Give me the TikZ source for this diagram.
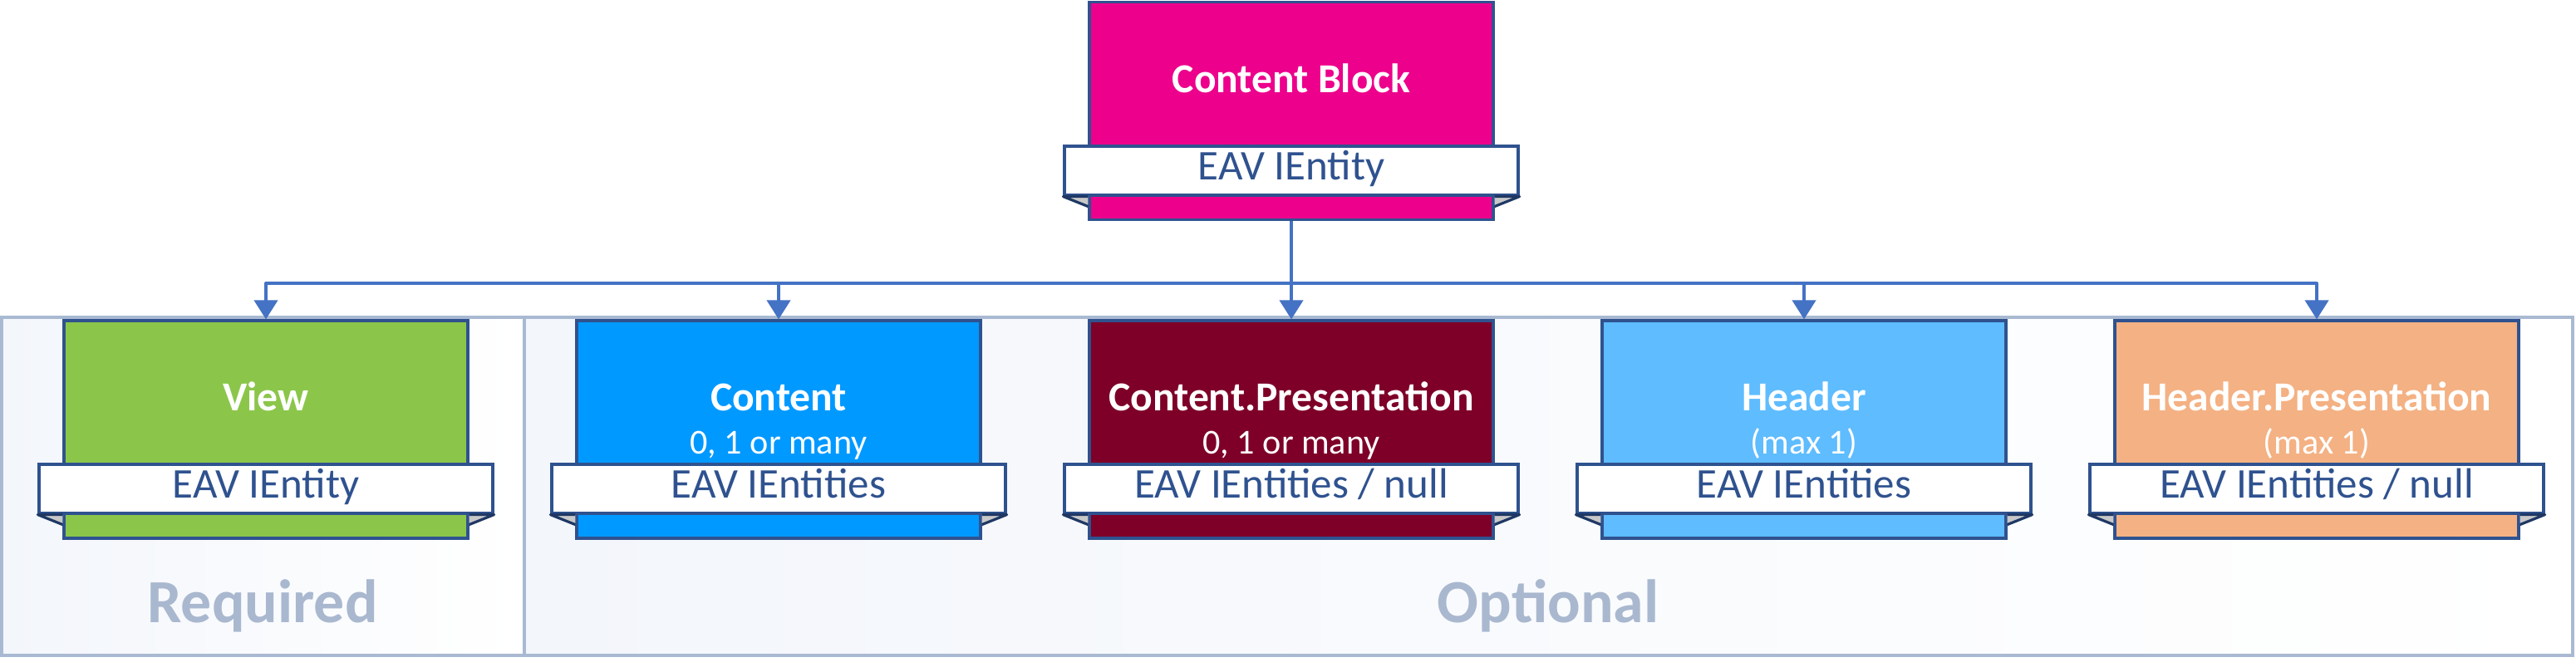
\documentclass[tikz,border=0pt]{standalone}
\usepackage{fontspec}
\setmainfont{Carlito}
\usetikzlibrary{arrows.meta}
\definecolor{cbmag}{HTML}{EC008C}
\definecolor{viewgreen}{HTML}{8BC64A}
\definecolor{contblue}{HTML}{0099FF}
\definecolor{cpresred}{HTML}{7E0028}
\definecolor{headblue}{HTML}{5EBCFF}
\definecolor{hpresorange}{HTML}{F4B183}
\definecolor{edgeblue}{HTML}{2F528F}
\definecolor{connblue}{HTML}{4472C4}
\definecolor{foldgray}{HTML}{C8C8C8}
\definecolor{foldedge}{HTML}{1F3864}
\definecolor{panelline}{HTML}{A9B9D2}
\definecolor{panelbg}{HTML}{F3F6FB}
\definecolor{tagcol}{HTML}{A9B8CF}
\tikzset{block/.style = {draw=edgeblue, line width=0.9pt, rectangle, minimum width=4.86cm, minimum height=2.62cm},
         ribbon/.style = {draw=edgeblue, fill=white, line width=0.9pt, rectangle, minimum width=5.46cm, minimum height=0.59cm,
                          inner sep=0pt, text=edgeblue, font=\fontsize{14.5}{17}\selectfont, text height=0.6em, text depth=0pt},
         title/.style = {text=white, font=\fontsize{14.1}{17}\selectfont\bfseries, anchor=base, inner sep=0pt},
         sub/.style = {text=white, font=\fontsize{12}{14}\selectfont, anchor=base, inner sep=0pt},
         fold/.style = {draw=foldedge, fill=foldgray, line width=0.9pt, line join=round},
         conn/.style = {draw=connblue, line width=1.15pt, line join=round, >={Triangle[width=0.28cm,length=0.23cm]}},
         panel/.style = {draw=panelline, line width=1pt, left color=panelbg, right color=white},
         tag/.style = {text=tagcol, font=\fontsize{21}{25}\selectfont\bfseries, anchor=base, inner sep=0pt}}

\begin{document}
\begin{tikzpicture}
    \useasboundingbox (0,0) rectangle (31,-8.09);
    \draw[panel](0.02,-3.82) rectangle (6.31,-7.89);
    \draw[panel](6.31,-3.82) rectangle (30.96,-7.89);
    \node[tag](reqt) at (3.16,-7.5){Required};
    \node[tag](optt) at (18.63,-7.5){Optional};

    \node[block, fill=cbmag](cb) at (15.54,-1.335){};
    \node[title](cbt) at (15.54,-1.12){Content Block};
    \node[ribbon](cbr) at (15.54,-2.055){EAV IEntity};

    \node[block, fill=viewgreen](view) at (3.20,-5.17){};
    \node[title](viewt) at (3.20,-4.95){View};
    \node[ribbon](viewr) at (3.20,-5.885){EAV IEntity};

    \node[block, fill=contblue](cont) at (9.37,-5.17){};
    \node[title](contt) at (9.37,-4.95){Content};
    \node[sub](conts) at (9.37,-5.47){0, 1 or many};
    \node[ribbon](contr) at (9.37,-5.885){EAV IEntities};

    \node[block, fill=cpresred](cpres) at (15.54,-5.17){};
    \node[title](cprest) at (15.54,-4.95){Content.Presentation};
    \node[sub](cpress) at (15.54,-5.47){0, 1 or many};
    \node[ribbon](cpresr) at (15.54,-5.885){EAV IEntities / null};

    \node[block, fill=headblue](head) at (21.71,-5.17){};
    \node[title](headt) at (21.71,-4.95){Header};
    \node[sub](heads) at (21.71,-5.47){(max 1)};
    \node[ribbon](headr) at (21.71,-5.885){EAV IEntities};

    \node[block, fill=hpresorange](hpres) at (27.88,-5.17){};
    \node[title](hprest) at (27.88,-4.95){Header.Presentation};
    \node[sub](hpress) at (27.88,-5.47){(max 1)};
    \node[ribbon](hpresr) at (27.88,-5.885){EAV IEntities / null};

    \foreach \b/\r in {cb/cbr,view/viewr,cont/contr,cpres/cpresr,head/headr,hpres/hpresr}{
        \draw[fold](\b.west |- \r.south) -- (\r.south west) -- ([yshift=-0.12cm]\b.west |- \r.south);
        \draw[fold](\b.east |- \r.south) -- (\r.south east) -- ([yshift=-0.12cm]\b.east |- \r.south);
    }

    \draw[conn](cb.south) -- (cb.south |- 0,-3.41) coordinate (bus);
    \draw[conn,->](bus) -| (view.north);
    \draw[conn,->](bus) -| (hpres.north);
    \draw[conn,->](bus -| cont.north) -- (cont.north);
    \draw[conn,->](bus) -- (cpres.north);
    \draw[conn,->](bus -| head.north) -- (head.north);
\end{tikzpicture}
\end{document}
